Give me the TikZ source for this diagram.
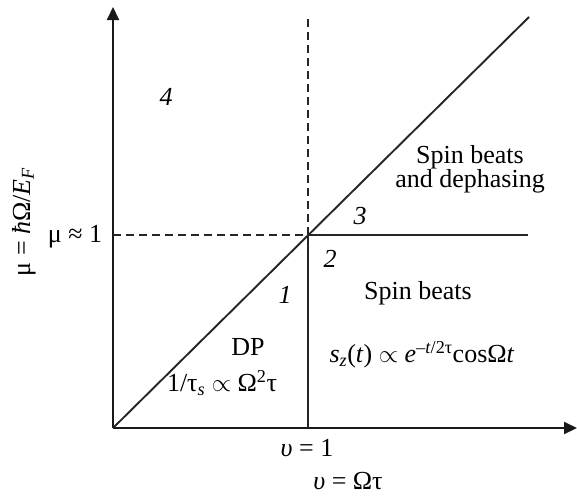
\documentclass[tikz,border=0pt]{standalone}
\usepackage{fontspec}
\setmainfont{Liberation Serif}
\usetikzlibrary{arrows.meta}
\newcommand{\prop}{\ensuremath{\propto}}
\begin{document}
\begin{tikzpicture}[x=1pt,y=-1pt,
  ln/.style={line width=1.9pt, draw=black!85},
  dsh/.style={line width=1.5pt, draw=black!85, dash pattern=on 8pt off 5pt},
  ax/.style={line width=2pt, draw=black!90, -{Triangle[length=13pt,width=12pt]}},
  lbl/.style={inner sep=0pt, font=\fontsize{26}{24}\selectfont},
  num/.style={inner sep=0pt, font=\fontsize{26}{24}\selectfont\itshape}]
\useasboundingbox (0,0) rectangle (577,496);
\coordinate (O) at (113,428);
\coordinate (X) at (577,428);
\coordinate (Y) at (113,7);
\coordinate (C) at (308,235);
\coordinate (D) at (529,17);
\coordinate (Vt) at (308,18);
\coordinate (Hl) at (113,235);
\coordinate (Hr) at (528,235);
\coordinate (Vb) at (308,428);
% axes
\draw[ax] (O) -- (X);
\draw[ax] (O) -- (Y);
% lines
\draw[ln] (O) -- (D);
\draw[ln] (C) -- (Hr);
\draw[ln] (C) -- (Vb);
\draw[dsh] (C) -- (Vt);
\draw[dsh] (Hl) -- (C);
% labels
\node[lbl, rotate=90] (ylab) at (24,222) {μ = \textit{ħ}Ω/\textit{E}\textsubscript{\textit{F}}};
\node[lbl] (mu1) at (75,237) {μ ≈ 1};
\node[lbl] (v1) at (307,448) {\textit{υ} = 1};
\node[lbl] (vx) at (348,481) {\textit{υ} = Ωτ};
\node[num] (r4) at (166,97) {4};
\node[num] (r3) at (360,216) {3};
\node[num] (r2) at (330,259) {2};
\node[num] (r1) at (285,295) {1};
\node[lbl, align=center] (sbd) at (470,169) {Spin beats\\and dephasing};
\node[lbl] (sb) at (418,293) {Spin beats};
\node[lbl] (dp) at (248,347) {DP};
\node[lbl] (tau) at (222,383) {1/τ\textsubscript{\textit{s}} \prop{} Ω\textsuperscript{2}τ};
\node[lbl] (sz) at (422,355) {\textit{s}\textsubscript{\textit{z}}(\textit{t}) \prop{} \textit{e}\textsuperscript{–\textit{t}/2τ}cosΩ\textit{t}};
\end{tikzpicture}
\end{document}
